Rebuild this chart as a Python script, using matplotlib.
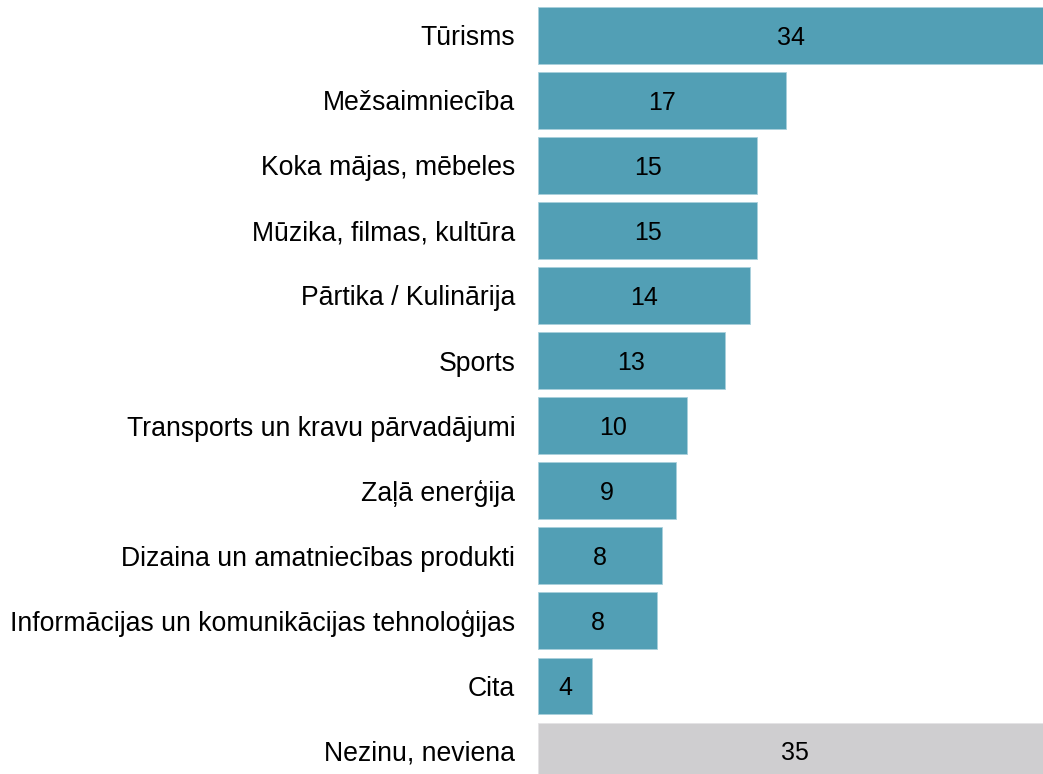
import matplotlib.pyplot as plt
import numpy as np

plt.rcParams['font.family'] = ['Liberation Sans', 'DejaVu Sans']

categories = ['Tūrisms', 'Mežsaimniecība', 'Koka mājas, mēbeles',
              'Mūzika, filmas, kultūra', 'Pārtika / Kulinārija', 'Sports',
              'Transports un kravu pārvadājumi', 'Zaļā enerģija',
              'Dizaina un amatniecības produkti',
              'Informācijas un komunikācijas tehnoloģijas', 'Cita',
              'Nezinu, neviena']
values = [34.49, 16.9, 14.95, 14.95, 14.45, 12.75, 10.2, 9.4, 8.45, 8.1, 3.65, 35.1]
colors = ['#529fb5'] * 11 + ['#cfced0']
edges = ['#a8d0dc'] * 11 + ['#e4e3e5']

fig = plt.figure(figsize=(10.43, 7.74), dpi=100)
ax = fig.add_axes([0.516, 0.0, 0.484, 1.0])

y = np.arange(len(categories))
ax.barh(y, values, height=0.87, color=colors, edgecolor=edges, linewidth=0.6)

for yi, v in zip(y, values):
    ax.text(v / 2, yi, f'{v:.0f}', ha='center', va='center_baseline', fontsize=18, color='black')

ax.set_xlim(0, 34.49)
ax.set_ylim(11.355, -0.541)
ax.set_yticks(y)
ax.set_yticklabels(categories, fontsize=19.15)
ax.tick_params(axis='y', length=0, pad=16.5)
ax.set_xticks([])
for s in ax.spines.values():
    s.set_visible(False)

fig.savefig('out.png', dpi=100)
